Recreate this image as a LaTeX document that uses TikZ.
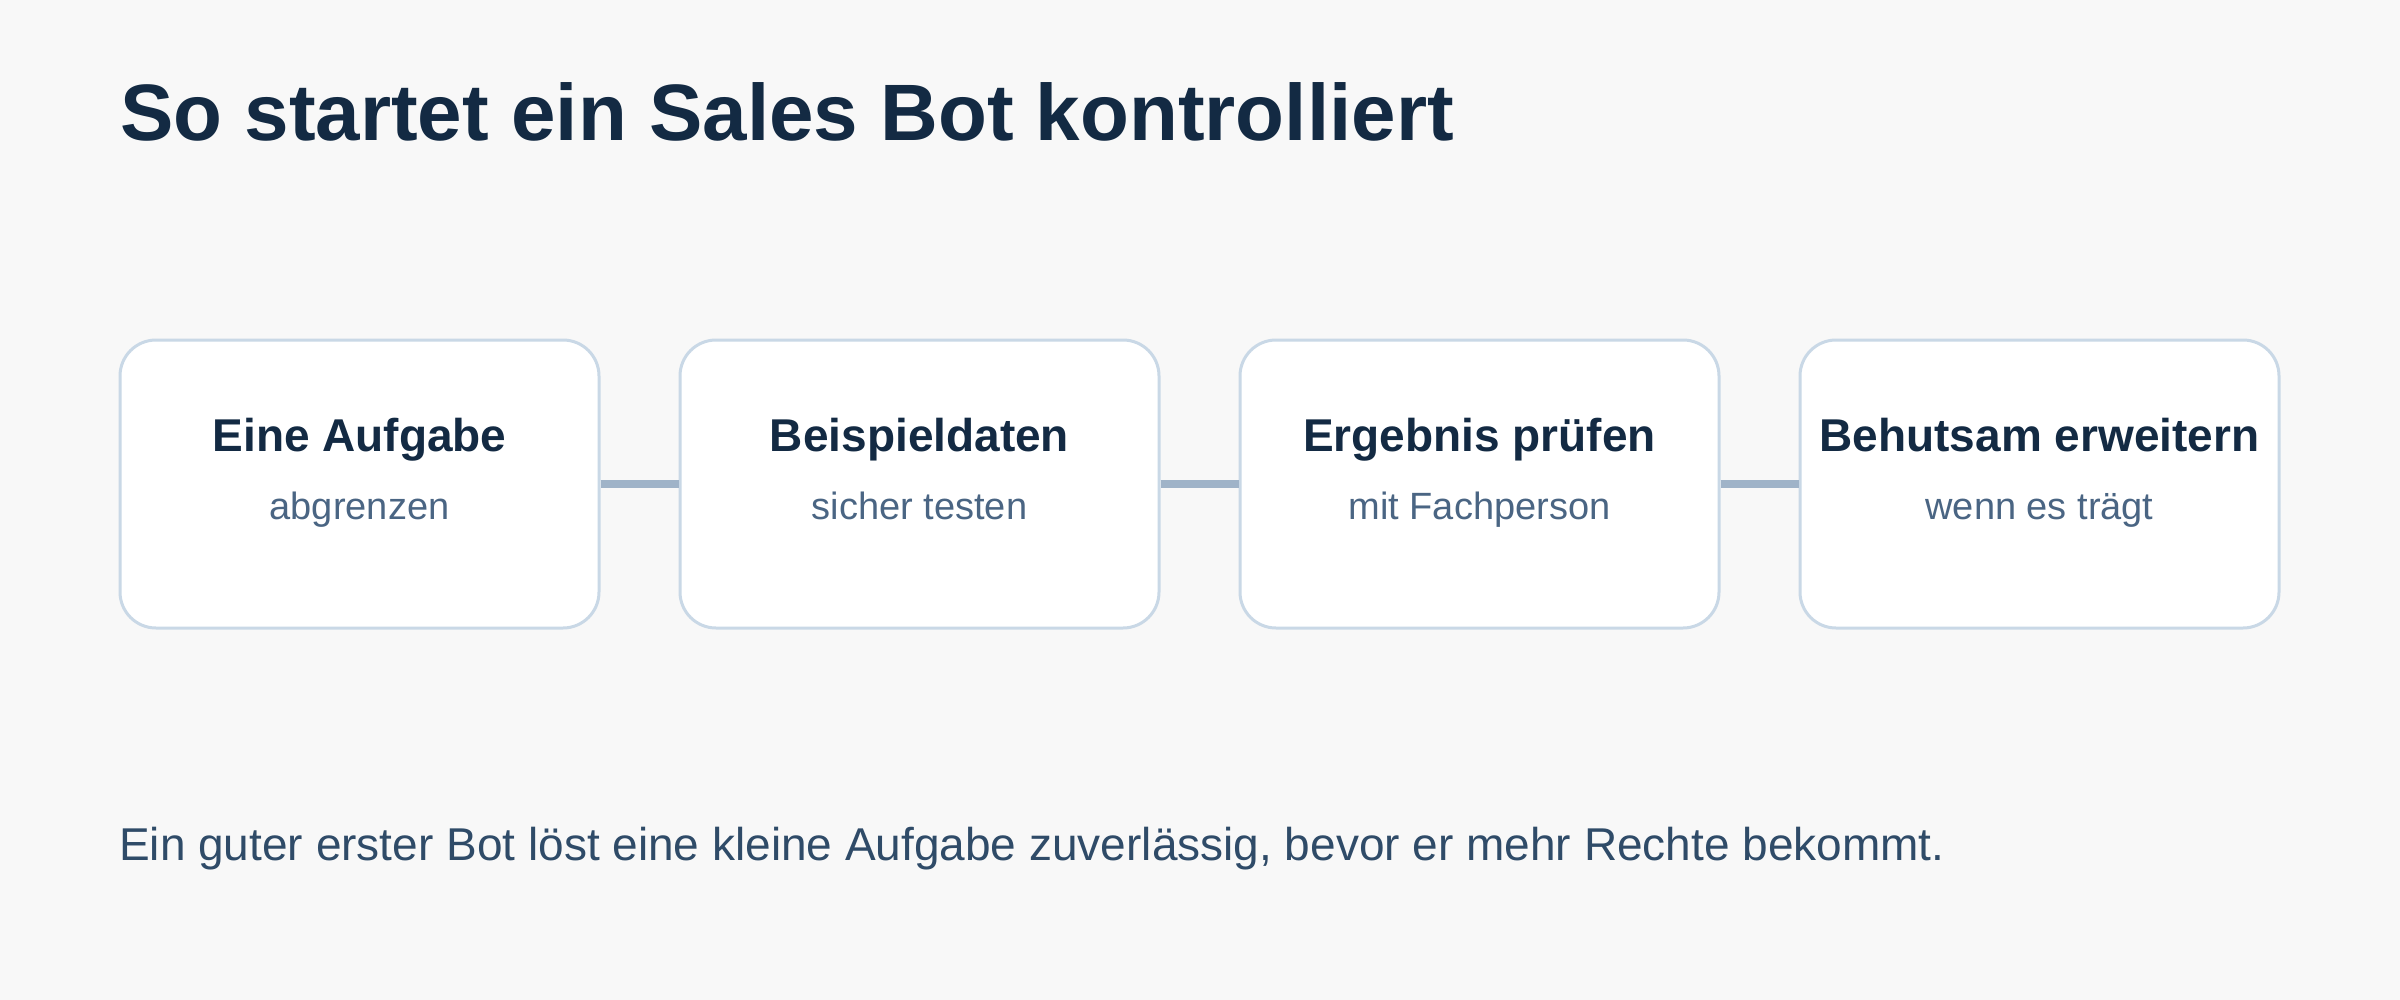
\documentclass[tikz,border=0pt]{standalone}
\usepackage{fontspec}
\setmainfont{Liberation Sans}
\definecolor{bgcol}{HTML}{F8F8F8}
\definecolor{titlecol}{HTML}{132A43}
\definecolor{subcol}{HTML}{4A6583}
\definecolor{footcol}{HTML}{2F4B68}
\definecolor{framecol}{HTML}{C9D8E6}
\definecolor{linkcol}{HTML}{9FB3C8}
\tikzset{
  stepbox/.style={draw=framecol,fill=white,line width=3pt,rounded corners=36pt,
    minimum width=479pt,minimum height=288pt,inner sep=0pt},
  steptitle/.style={anchor=base,inner sep=0pt,text=titlecol,
    font=\fontsize{46}{54}\selectfont\bfseries},
  stepsub/.style={anchor=base,inner sep=0pt,text=subcol,
    font=\fontsize{38}{45}\selectfont},
  link/.style={draw=linkcol,line width=8pt}
}
\begin{document}
\begin{tikzpicture}[x=1pt,y=-1pt]
  \fill [bgcol] (0,0) rectangle (2400,1000);
  \node [anchor=base west,inner sep=0pt,text=titlecol,font=\fontsize{80}{96}\selectfont\bfseries]
    (title) at (120,141) {So startet ein Sales Bot kontrolliert};
  % the four steps
  \node [stepbox] (aufgabe) at (359.5,484) {};
  \node [stepbox] (daten) at (919.5,484) {};
  \node [stepbox] (pruefen) at (1479.5,484) {};
  \node [stepbox] (erweitern) at (2039.5,484) {};
  \draw [link] (aufgabe.east) -- (daten.west);
  \draw [link] (daten.east) -- (pruefen.west);
  \draw [link] (pruefen.east) -- (erweitern.west);
  \node [steptitle] (aufgabe-t) at ([yshift=33pt]aufgabe.center) {Eine Aufgabe};
  \node [stepsub] (aufgabe-s) at ([yshift=-35pt]aufgabe.center) {abgrenzen};
  \node [steptitle] (daten-t) at ([yshift=33pt]daten.center) {Beispieldaten};
  \node [stepsub] (daten-s) at ([yshift=-35pt]daten.center) {sicher testen};
  \node [steptitle] (pruefen-t) at ([yshift=33pt]pruefen.center) {Ergebnis prüfen};
  \node [stepsub] (pruefen-s) at ([yshift=-35pt]pruefen.center) {mit Fachperson};
  \node [steptitle] (erweitern-t) at ([yshift=33pt]erweitern.center) {Behutsam erweitern};
  \node [stepsub] (erweitern-s) at ([yshift=-35pt]erweitern.center) {wenn es trägt};
  \node [anchor=base west,inner sep=0pt,text=footcol,font=\fontsize{46}{55}\selectfont]
    (fazit) at (119,860) {Ein guter erster Bot löst eine kleine Aufgabe zuverlässig, bevor er mehr Rechte bekommt.};
\end{tikzpicture}
\end{document}
